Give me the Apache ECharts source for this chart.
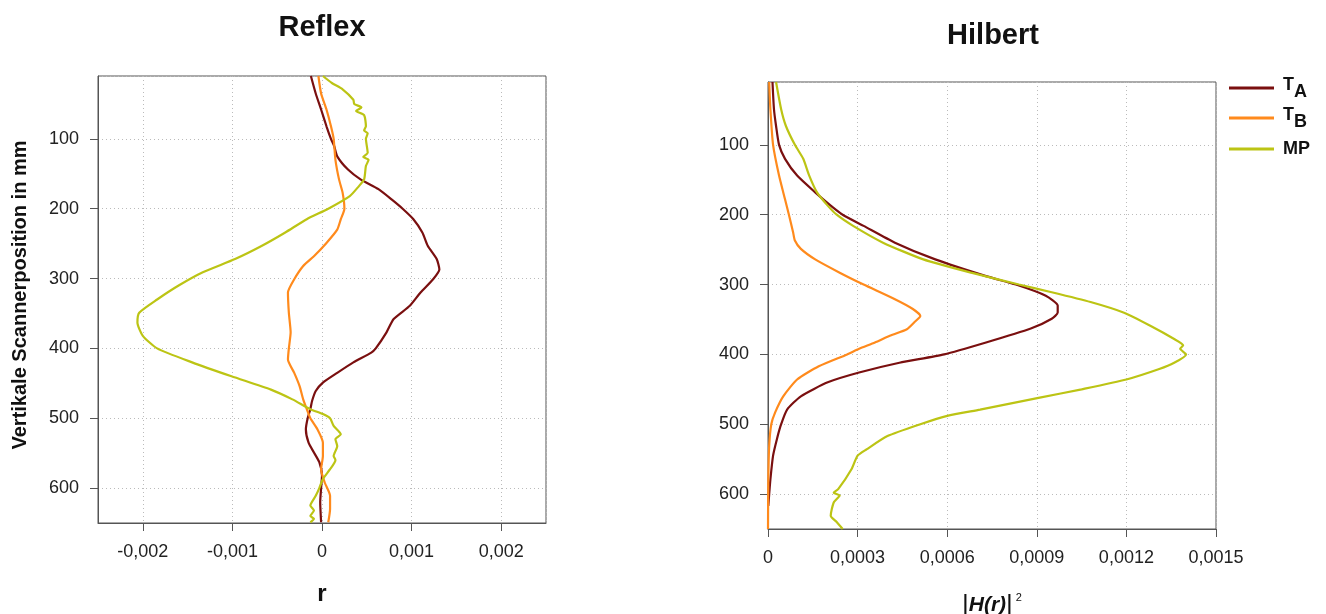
<!DOCTYPE html>
<html>
<head>
<meta charset="utf-8">
<script src="https://cdn.jsdelivr.net/npm/echarts@6/dist/echarts.min.js"></script>
<style>
  html, body { margin: 0; padding: 0; background: #fff; }
  #chart { width: 1326px; height: 614px; }
</style>
</head>
<body>
<div id="chart"></div>
<script>
// Reflex: [r, Scannerposition mm]
const reflexTA = [
  [-0.000124, 10], [-0.00007, 35], [-0.00001, 58], [0.00005, 82], [0.0001, 100], [0.000135, 110],
  [0.00017, 125], [0.00029, 144], [0.00043, 158], [0.00063, 172], [0.00078, 187], [0.0009, 200],
  [0.00102, 215], [0.00112, 234], [0.00118, 253], [0.00128, 272], [0.00131, 287], [0.00124, 301],
  [0.0011, 320], [0.00098, 339], [0.0008, 358], [0.00072, 377], [0.0006, 400], [0.00055, 406],
  [0.00035, 420], [0.00017, 435], [0.00001, 449], [-0.00007, 461], [-0.00011, 475], [-0.00013, 487],
  [-0.00016, 500], [-0.00018, 516], [-0.00015, 535], [-0.00009, 549], [-0.00003, 563], [0, 582],
  [-0.00001, 600], [-0.00002, 620], [-0.00001, 649]
];
const reflexTB = [
  [-0.00004, 10], [-0.00001, 35], [0.00005, 58], [0.0001, 82], [0.00013, 100], [0.00015, 130],
  [0.00019, 158], [0.00023, 177], [0.00025, 200], [0.00021, 215], [0.00017, 230], [0.00005, 249],
  [-0.00009, 268], [-0.00021, 282], [-0.00031, 301], [-0.00038, 320], [-0.00037, 349], [-0.00035, 377],
  [-0.00037, 400], [-0.00038, 416], [-0.00031, 435], [-0.00025, 454], [-0.00021, 473], [-0.00017, 487],
  [-0.00013, 500], [-0.00005, 516], [0.00001, 535], [0.00001, 554], [-0.00001, 573], [0.00003, 592],
  [0.00009, 611], [0.00009, 630], [0.00007, 649]
];
const reflexMP = [
  [0.00001, 10], [0.00011, 20], [0.00023, 29], [0.00035, 44], [0.00036, 50], [0.00044, 55],
  [0.00038, 60], [0.00047, 66], [0.00049, 82], [0.00047, 88], [0.00051, 92], [0.00049, 100],
  [0.00051, 120], [0.00046, 126], [0.00052, 130], [0.00049, 139], [0.00047, 158], [0.00041, 168],
  [0.00031, 182], [0.00007, 200], [-0.00017, 215], [-0.00041, 234], [-0.00067, 253], [-0.00097, 272],
  [-0.00133, 291], [-0.0016, 310], [-0.00184, 330], [-0.00204, 349], [-0.00206, 363], [-0.002, 382],
  [-0.00184, 400], [-0.00145, 420], [-0.00101, 440], [-0.00057, 459], [-0.00033, 473], [-0.00013, 487],
  [0.00001, 494], [0.00009, 500], [0.00013, 511], [0.00021, 523], [0.00015, 530], [0.00017, 540],
  [0.00013, 554], [0.00015, 560], [0.00009, 573], [0.00001, 587], [-0.00003, 600], [-0.00007, 611],
  [-0.00013, 625], [-0.00009, 632], [-0.00013, 640], [-0.00009, 644], [-0.00013, 649]
];
// Hilbert: [|H(r)|^2, Scannerposition mm]
const hilbertTA = [
  [0.000015, 10], [0.00002, 49], [0.000027, 73], [0.000037, 100], [0.000057, 120], [0.0000975, 144],
  [0.000158, 168], [0.00021, 187], [0.00025, 200], [0.00032, 216], [0.000425, 240], [0.00056, 264],
  [0.00073, 288], [0.00083, 300], [0.00093, 316], [0.00097, 330], [0.00097, 340], [0.00095, 349],
  [0.00088, 363], [0.00073, 383], [0.00059, 400], [0.00044, 412], [0.000305, 426], [0.0002, 440],
  [0.00011, 460], [0.000064, 479], [0.000044, 500], [0.00003, 521], [0.000017, 545], [0.000008, 579],
  [0.000004, 600], [0.000001, 617]
];
const hilbertTB = [
  [0.000004, 10], [0.000008, 49], [0.000017, 100], [0.000037, 144], [0.000057, 178], [0.00007, 200],
  [0.000084, 225], [0.00009, 237], [0.00011, 249], [0.000158, 264], [0.00024, 283], [0.00032, 300],
  [0.000425, 321], [0.000485, 335], [0.00051, 345], [0.00049, 354], [0.000465, 364], [0.00041, 373],
  [0.000358, 383], [0.000305, 392], [0.000265, 400], [0.00017, 417], [0.0000975, 436], [0.000051, 460],
  [0.000024, 483], [0.000011, 500], [0.000004, 531], [0.000001, 579], [0, 650]
];
const hilbertMP = [
  [0.000027, 10], [0.000044, 49], [0.00006, 73], [0.00009, 100], [0.000118, 120], [0.000138, 144],
  [0.000164, 168], [0.0002, 187], [0.00023, 200], [0.000285, 216], [0.000385, 240], [0.00052, 264],
  [0.00068, 283], [0.00084, 300], [0.00095, 311], [0.00108, 325], [0.00119, 340], [0.00128, 359],
  [0.00136, 378], [0.00139, 387], [0.00138, 392], [0.0014, 400], [0.00136, 412], [0.00131, 421],
  [0.0012, 436], [0.00105, 450], [0.00091, 462], [0.00071, 479], [0.0006, 488], [0.00051, 500],
  [0.0004, 517], [0.00033, 536], [0.0003, 545], [0.00028, 564], [0.000235, 593], [0.00022, 598],
  [0.00024, 602], [0.00022, 612], [0.00021, 631], [0.00023, 640], [0.00025, 650]
];
const seriesNames = ['TA', 'TB', 'MP'];
const seriesColors = ['#7a0f0f', '#ff8a1c', '#bcc414'];

const chart = echarts.init(document.getElementById('chart'));
const font = 'Liberation Sans, Arial, sans-serif';

function fmt(v) {
  return String(parseFloat(v.toFixed(5))).replace('.', ',');
}

function xAxisOf(gridIndex, min, max, extra) {
  return Object.assign({
    type: 'value',
    gridIndex: gridIndex,
    min: min,
    max: max,
    axisLine: { show: true, onZero: false, lineStyle: { color: '#555', width: 1 } },
    axisTick: { show: true, length: 8, lineStyle: { color: '#555' } },
    axisLabel: { color: '#222', fontSize: 18, fontFamily: font, margin: 20, formatter: fmt },
    splitLine: { show: true, lineStyle: { color: '#bbb', type: [1, 3] } },
  }, extra);
}

function yAxisOf(gridIndex, extra) {
  return Object.assign({
    type: 'value',
    gridIndex: gridIndex,
    min: 10,
    max: 650,
    inverse: true,
    axisLine: { show: true, onZero: false, lineStyle: { color: '#555', width: 1 } },
    axisTick: { show: true, length: 8, lineStyle: { color: '#555' } },
    axisLabel: { color: '#222', fontSize: 18, fontFamily: font, margin: 19, showMinLabel: false, showMaxLabel: false },
    splitLine: { show: true, lineStyle: { color: '#bbb', type: [1, 3] } },
  }, extra);
}

const lineSeries = [];
[[reflexTA, reflexTB, reflexMP], [hilbertTA, hilbertTB, hilbertMP]].forEach(function (group, g) {
  group.forEach(function (data, i) {
    lineSeries.push({
      name: seriesNames[i],
      type: 'line',
      xAxisIndex: g,
      yAxisIndex: g,
      data: data,
      showSymbol: false,
      symbol: 'none',
      smooth: 0.2,
      lineStyle: { color: seriesColors[i], width: 2.2 },
      itemStyle: { color: seriesColors[i] },
      animation: false
    });
  });
});

// one legend per entry so the rows sit at fixed heights
const legendTops = [75, 105, 140];
const legendRich = {
  b: { fontSize: 18, fontWeight: 'bold', color: '#111', fontFamily: font, lineHeight: 24, padding: [0, 0, 6, 0] },
  s: { fontSize: 18, fontWeight: 'bold', color: '#111', fontFamily: font, lineHeight: 22, padding: [8, 0, 0, 0] },
  m: { fontSize: 18, fontWeight: 'bold', color: '#111', fontFamily: font, lineHeight: 30 }
};
const legends = seriesNames.map(function (name, i) {
  return {
    orient: 'vertical',
    left: 1229,
    top: legendTops[i],
    padding: 0,
    itemWidth: 45,
    itemHeight: 3,
    icon: 'rect',
    selectedMode: false,
    data: [name],
    formatter: function (n) {
      if (n === 'MP') return '{m|MP}';
      return '{b|T}{s|' + n.charAt(1) + '}';
    },
    textStyle: { padding: [0, 0, 0, 4], rich: legendRich }
  };
});

const option = {
  backgroundColor: '#fff',
  animation: false,
  title: [
    { text: 'Reflex', left: 322, top: 13, textAlign: 'center', padding: 0,
      textStyle: { fontSize: 29, fontWeight: 'bold', color: '#111', fontFamily: font } },
    { text: 'Hilbert', left: 993, top: 21, textAlign: 'center', padding: 0,
      textStyle: { fontSize: 29, fontWeight: 'bold', color: '#111', fontFamily: font } }
  ],
  legend: legends,
  grid: [
    { left: 98, top: 76, width: 448, height: 447, show: true, borderColor: '#555', borderWidth: 1, outerBoundsMode: 'none' },
    { left: 768, top: 82, width: 448, height: 447, show: true, borderColor: '#555', borderWidth: 1, outerBoundsMode: 'none' }
  ],
  xAxis: [
    xAxisOf(0, -0.0025, 0.0025, {
      name: 'r', nameLocation: 'middle', nameGap: 59,
      nameTextStyle: { fontSize: 24, fontWeight: 'bold', color: '#111', fontFamily: font },
      axisLabel: { color: '#222', fontSize: 18, fontFamily: font, margin: 20, formatter: fmt, showMinLabel: false, showMaxLabel: false }
    }),
    xAxisOf(1, 0, 0.0015, {
      interval: 0.0003,
      name: '{n||}{h|H(r)}{n||}{p|2}', nameLocation: 'middle', nameGap: 63,
      nameTextStyle: {
        rich: {
          n: { fontSize: 26, color: '#111', fontFamily: font, fontWeight: 'normal' },
          h: { fontSize: 21, fontWeight: 'bold', fontStyle: 'italic', color: '#111', fontFamily: font },
          p: { fontSize: 11, color: '#111', fontFamily: font, verticalAlign: 'top', padding: [0, 0, 16, 3] }
        }
      }
    })
  ],
  yAxis: [
    yAxisOf(0, {
      name: 'Vertikale Scannerposition in mm', nameLocation: 'middle', nameGap: 68, nameRotate: 90,
      nameTextStyle: { fontSize: 20, fontWeight: 'bold', color: '#111', fontFamily: font, padding: [0, 0, 0, 9] }
    }),
    yAxisOf(1, {})
  ],
  series: lineSeries
};

chart.setOption(option);
</script>
</body>
</html>
